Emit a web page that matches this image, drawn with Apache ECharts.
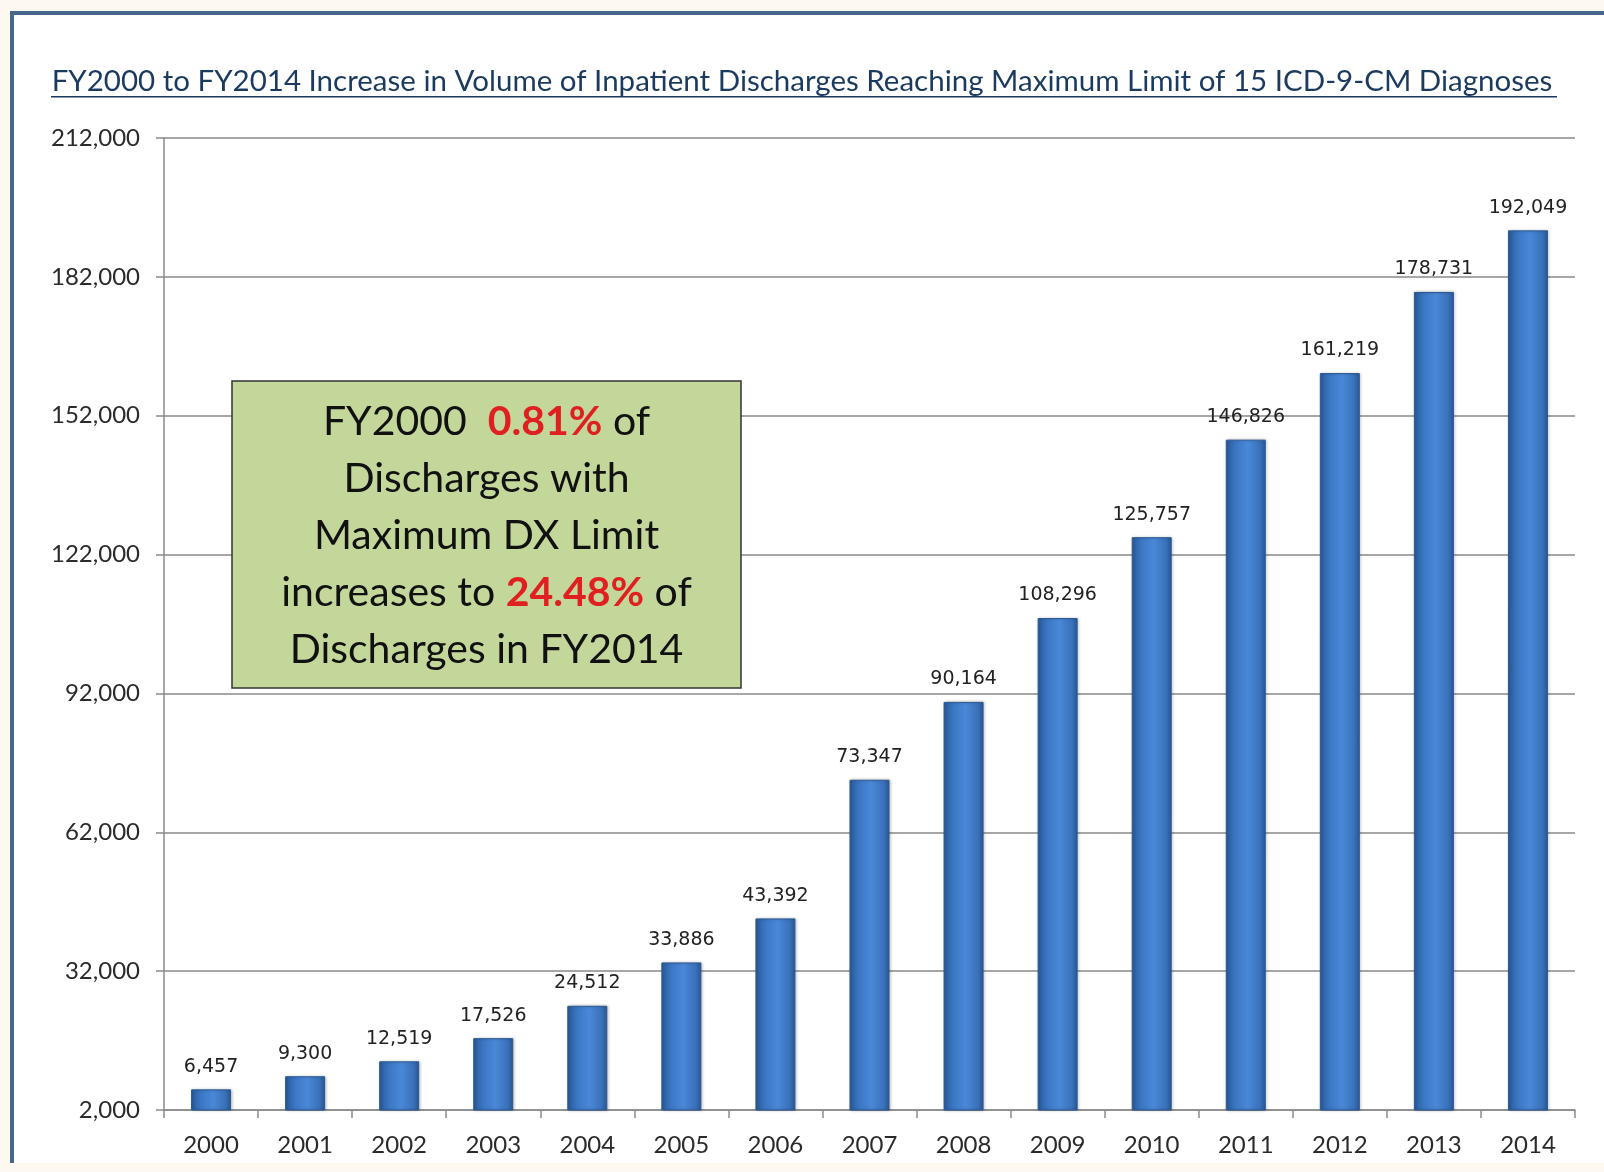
<!DOCTYPE html>
<html>
<head>
<meta charset="utf-8">
<title>Inpatient Discharges Reaching Maximum DX Limit</title>
<script src="https://cdn.jsdelivr.net/npm/echarts@6/dist/echarts.min.js"></script>
<style>
  html, body { margin: 0; padding: 0; background: #fdf9f1; }
  #chart { width: 1604px; height: 1172px; }
</style>
</head>
<body>
<div id="chart"></div>
<script>
'use strict';

const years = ['2000', '2001', '2002', '2003', '2004', '2005', '2006', '2007',
  '2008', '2009', '2010', '2011', '2012', '2013', '2014'];
const discharges = [6457, 9300, 12519, 17526, 24512, 33886, 43392, 73347,
  90164, 108296, 125757, 146826, 161219, 178731, 192049];
const yMin = 2000;
const yMax = 212000;
const yStep = 30000;

const titleText = 'FY2000 to FY2014 Increase in Volume of Inpatient Discharges Reaching Maximum Limit of 15 ICD-9-CM Diagnoses';

const chart = echarts.init(document.getElementById('chart'));

function fmt(v) {
  return v.toLocaleString('en-US');
}

const barColor = new echarts.graphic.LinearGradient(0, 0, 1, 0, [
  { offset: 0, color: '#2a5a99' },
  { offset: 0.25, color: '#3b77c4' },
  { offset: 0.55, color: '#4a88d8' },
  { offset: 0.85, color: '#3a72bb' },
  { offset: 1, color: '#2a5793' }
]);

const option = {
  backgroundColor: '#fdf9f1',
  animation: false,
  grid: { left: 164, right: 29, top: 138, bottom: 62, containLabel: false },
  xAxis: {
    type: 'category',
    data: years,
    axisLine: { lineStyle: { color: '#8a8a8a', width: 1.5 } },
    axisTick: { show: true, length: 8, lineStyle: { color: '#8a8a8a', width: 1.5 } },
    axisLabel: { color: '#2a2a2a', fontFamily: 'Lato', fontSize: 24, margin: 23 }
  },
  yAxis: {
    type: 'value',
    min: yMin,
    max: yMax,
    interval: yStep,
    axisLine: { show: true, lineStyle: { color: '#8a8a8a', width: 1.5 } },
    axisTick: { show: true, length: 8, lineStyle: { color: '#8a8a8a', width: 1.5 } },
    axisLabel: {
      color: '#2a2a2a', fontFamily: 'Lato', fontSize: 24, margin: 24,
      formatter: function (v) { return fmt(v); }
    },
    splitLine: { lineStyle: { color: '#8a8a8a', width: 1.5 } }
  },
  series: [{
    type: 'bar',
    data: discharges,
    barWidth: 40,
    itemStyle: {
      color: barColor,
      borderColor: '#2c5a94',
      borderWidth: 1,
      shadowColor: 'rgba(0,0,0,0.25)',
      shadowBlur: 3,
      shadowOffsetX: 1
    },
    label: {
      show: true,
      position: 'top',
      distance: 13,
      color: '#222',
      fontFamily: 'DejaVu Sans',
      fontSize: 19,
      formatter: function (p) { return fmt(p.value); }
    }
  }],
  graphic: [
    // page frame: white panel with dark edge on the left and top
    { type: 'rect', z: -10, silent: true,
      shape: { x: 12, y: 13, width: 1592, height: 1150 },
      style: { fill: '#ffffff' } },
    { type: 'rect', z: -9, silent: true,
      shape: { x: 10, y: 11, width: 1594, height: 4 },
      style: { fill: '#44678a' } },
    { type: 'rect', z: -9, silent: true,
      shape: { x: 10, y: 11, width: 4, height: 1152 },
      style: { fill: '#44678a' } },
    // underlined title
    { type: 'text', left: 'center', top: 66, z: 10,
      style: { text: titleText, fill: '#1b3a5f', font: '29.5px Lato' } },
    { type: 'rect', z: 10, silent: true,
      shape: { x: 51, y: 96, width: 1506, height: 1.5 },
      style: { fill: '#1b3a5f' } },
    // annotation box
    { type: 'rect', z: 20,
      shape: { x: 232, y: 381, width: 509, height: 307 },
      style: { fill: '#c4d79b', stroke: '#333', lineWidth: 1.5 } },
    { type: 'text', z: 21, x: 486.5, y: 536,
      style: {
        text: '{n|FY2000  }{r|0.81%}{n| of}\n{n|Discharges with}\n{n|Maximum DX Limit}\n{n|increases to }{r|24.48%}{n| of}\n{n|Discharges in FY2014}',
        align: 'center',
        verticalAlign: 'middle',
        rich: {
          n: { fontFamily: 'Lato', fontSize: 41, fill: '#111', lineHeight: 57 },
          r: { fontFamily: 'Lato', fontSize: 41, fontWeight: 'bold', fill: '#e02020', lineHeight: 57 }
        }
      } }
  ]
};

chart.setOption(option);
</script>
</body>
</html>
